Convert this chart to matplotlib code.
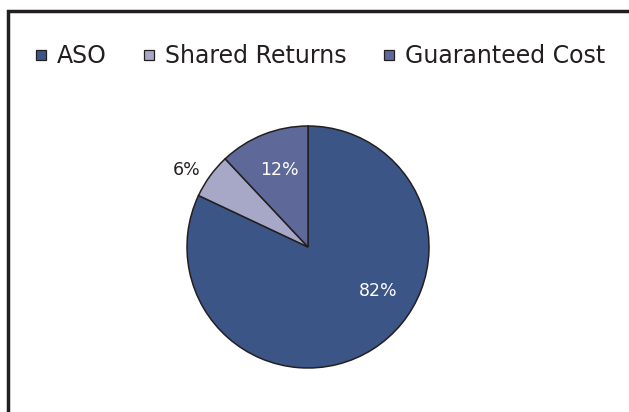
import matplotlib
matplotlib.use("Agg")
import matplotlib.pyplot as plt
from matplotlib.lines import Line2D
import numpy as np

categories = ["ASO", "Shared Returns", "Guaranteed Cost"]
values = [82, 6, 12]
labels = ["82%", "6%", "12%"]
colors = ["#3C5587", "#A7A8C8", "#5F6999"]

plt.rcParams['font.family'] = ['DejaVu Sans']

fig = plt.figure(figsize=(6.29, 4.12), dpi=100)
ax = fig.add_axes([0, 0, 1, 1])
ax.set_xlim(0, 629)
ax.set_ylim(412, 0)
ax.axis('off')

# frame (top + left visible)
ax.plot([8, 8, 629], [412, 11, 11], color="#231F20", lw=2.5, solid_joinstyle='miter')

pax = fig.add_axes([(308 - 121) / 629, 1 - (247 + 121) / 412, 242 / 629, 242 / 412])
wedges, _ = pax.pie(values, colors=colors, startangle=90, counterclock=False,
                    radius=1.0, wedgeprops=dict(edgecolor="#231F20", linewidth=1.1))
pax.set_xlim(-1.0, 1.0)
pax.set_ylim(-1.0, 1.0)
pax.set_aspect('equal')

# percent label placement (angle in degrees, radius as fraction)
lab_ang = [-32, 147.7, 110.6]
lab_r = [0.68, 1.19, 0.68]
txt_colors = ["white", "#231F20", "white"]
for lab, a, r, c in zip(labels, lab_ang, lab_r, txt_colors):
    t = np.deg2rad(a)
    pax.text(r * np.cos(t), r * np.sin(t), lab, ha='center', va='center',
             fontsize=12.5, color=c)

handles = [Line2D([], [], marker='s', linestyle='none', markersize=7.6,
                  markerfacecolor=col, markeredgecolor="#231F20", markeredgewidth=0.9)
           for col in colors]
fig.legend(handles, categories, loc='center', bbox_to_anchor=(0.509, 1 - 56 / 412),
           ncol=3, frameon=False, fontsize=17, handlelength=0.5, handletextpad=0.41,
           columnspacing=1.55, labelcolor="#231F20", borderpad=0, borderaxespad=0)

fig.savefig("out.png", dpi=100)
